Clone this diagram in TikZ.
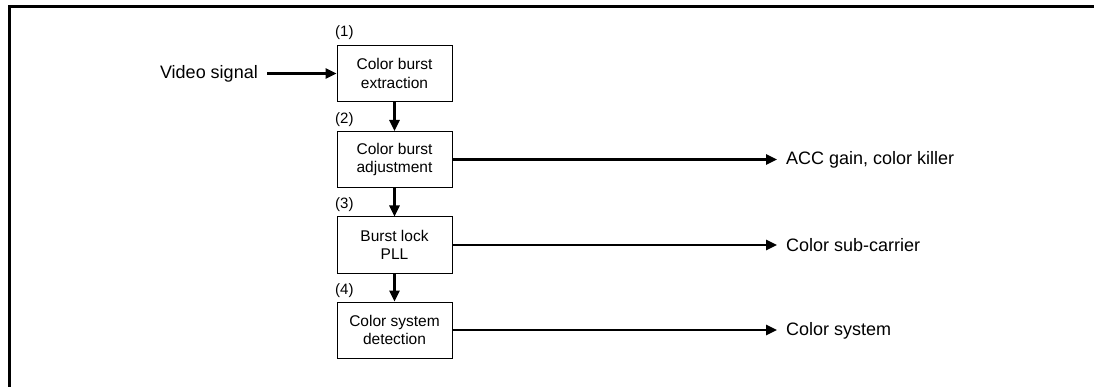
\documentclass[tikz,border=0pt]{standalone}
\usepackage{fontspec}
\setmainfont{Liberation Sans}
\usetikzlibrary{arrows.meta}
\tikzset{
  blk/.style={draw, line width=1pt, minimum width=115pt, minimum height=56pt, inner sep=0pt, align=center, font=\fontsize{15.5}{18.5}\selectfont},
  num/.style={anchor=south west, inner sep=0pt, font=\fontsize{15}{18}\selectfont},
  lbl/.style={inner sep=0pt, font=\fontsize{18}{21}\selectfont},
  sig/.style={line width=2.5pt, -{Triangle[length=11pt,width=10pt]}},
  frame/.style={line width=3pt}
}
\begin{document}
\begin{tikzpicture}[x=1pt,y=-1pt]
\useasboundingbox (0,0) rectangle (1094,387);
\draw[frame] (9.5,387) -- (9.5,6.5) -- (1094,6.5);

\node[blk] (b1) at (394.5,73.5) {Color burst\\extraction};
\node[blk] (b2) at (394.5,159.5) {Color burst\\adjustment};
\node[blk] (b3) at (394.5,245) {Burst lock\\PLL};
\node[blk] (b4) at (394.5,330) {Color system\\detection};

\node[num] (n1) at (335,40) {(1)};
\node[num] (n2) at (335,126.5) {(2)};
\node[num] (n3) at (335,212) {(3)};
\node[num] (n4) at (335,298) {(4)};

\node[lbl, anchor=east] (vin) at (258,73.5) {Video signal};
\node[lbl, anchor=west] (o1) at (786,159.5) {ACC gain, color killer};
\node[lbl, anchor=west] (o2) at (786,245) {Color sub-carrier};
\node[lbl, anchor=west] (o3) at (786,330.5) {Color system};

\draw[sig] ([xshift=9pt]vin.east) -- (b1.west);
\draw[sig] (b1) -- (b2);
\draw[sig] (b2) -- (b3);
\draw[sig] (b3) -- (b4);
\draw[sig] (b2.east) -- ([xshift=-9pt]o1.west |- b2.east);
\draw[sig] (b3.east) -- ([xshift=-9pt]o2.west |- b3.east);
\draw[sig] (b4.east) -- ([xshift=-9pt]o3.west |- b4.east);
\end{tikzpicture}
\end{document}
